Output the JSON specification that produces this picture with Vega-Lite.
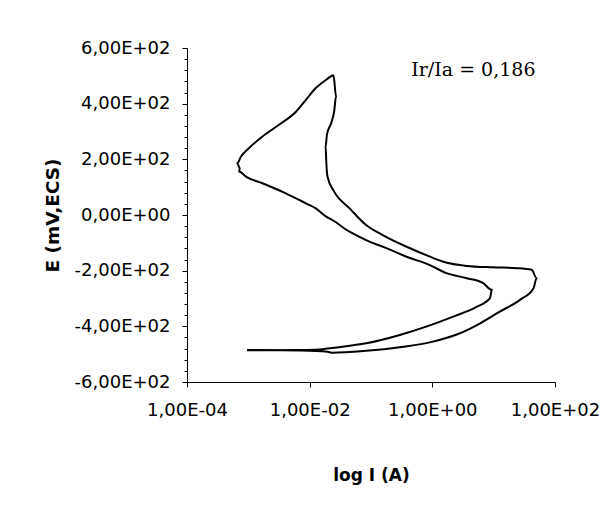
{
  "$schema": "https://vega.github.io/schema/vega-lite/v6.json",
  "width": 368,
  "height": 334,
  "autosize": {"type": "none"},
  "padding": {"left": 187, "top": 48, "right": 51, "bottom": 130},
  "background": "white",
  "config": {
    "view": {"stroke": null},
    "axis": {
      "grid": false,
      "domainColor": "black",
      "domainWidth": 1,
      "tickColor": "black",
      "tickWidth": 1,
      "labelColor": "black",
      "titleColor": "black",
      "labelFont": "DejaVu Sans",
      "labelFontSize": 18,
      "labelFlush": false,
      "labelOverlap": false,
      "titleFont": "DejaVu Sans",
      "titleFontWeight": "bold"
    }
  },
  "encoding": {
    "x": {
      "field": "I",
      "type": "quantitative",
      "scale": {"type": "log", "domain": [0.0001, 100], "nice": false},
      "axis": {
        "title": "log I (A)",
        "titleFontSize": 17,
        "titlePadding": 48,
        "values": [0.0001, 0.01, 1, 100],
        "tickSize": 5,
        "labelPadding": 14,
        "labelExpr": "datum.value < 0.001 ? '1,00E-04' : datum.value < 0.1 ? '1,00E-02' : datum.value < 10 ? '1,00E+00' : '1,00E+02'"
      }
    },
    "y": {
      "field": "E",
      "type": "quantitative",
      "scale": {"domain": [-600, 600], "nice": false, "zero": false},
      "axis": {
        "title": "E (mV,ECS)",
        "titleFontSize": 18.5,
        "titlePadding": 12,
        "values": [-600, -560, -520, -480, -440, -400, -360, -320, -280, -240, -200, -160, -120, -80, -40, 0, 40, 80, 120, 160, 200, 240, 280, 320, 360, 400, 440, 480, 520, 560, 600],
        "tickSize": {"expr": "datum.value % 200 == 0 ? 5 : 3"},
        "labelPadding": 12,
        "labelExpr": "datum.value % 200 != 0 ? '' : datum.value == 0 ? '0,00E+00' : (datum.value / 100) + ',00E+02'"
      }
    }
  },
  "layer": [
    {
      "data": {
        "values": [
          {"seq": 1, "I": 0.000955, "E": -485},
          {"seq": 2, "I": 0.00676, "E": -487},
          {"seq": 3, "I": 0.0195, "E": -491},
          {"seq": 4, "I": 0.0234, "E": -495},
          {"seq": 5, "I": 0.0832, "E": -488},
          {"seq": 6, "I": 0.295, "E": -475},
          {"seq": 7, "I": 1.023, "E": -455},
          {"seq": 8, "I": 2.82, "E": -425},
          {"seq": 9, "I": 6.03, "E": -389},
          {"seq": 10, "I": 12.6, "E": -347},
          {"seq": 11, "I": 26.9, "E": -305},
          {"seq": 12, "I": 44.7, "E": -263},
          {"seq": 13, "I": 50.1, "E": -227},
          {"seq": 14, "I": 41.7, "E": -197},
          {"seq": 15, "I": 24.0, "E": -191},
          {"seq": 16, "I": 9.77, "E": -188},
          {"seq": 17, "I": 3.63, "E": -183},
          {"seq": 18, "I": 1.51, "E": -168},
          {"seq": 19, "I": 0.794, "E": -144},
          {"seq": 20, "I": 0.38, "E": -114},
          {"seq": 21, "I": 0.155, "E": -72},
          {"seq": 22, "I": 0.0832, "E": -36},
          {"seq": 23, "I": 0.0447, "E": 24},
          {"seq": 24, "I": 0.0251, "E": 84},
          {"seq": 25, "I": 0.0195, "E": 138},
          {"seq": 26, "I": 0.0186, "E": 198},
          {"seq": 27, "I": 0.0182, "E": 246},
          {"seq": 28, "I": 0.0191, "E": 288},
          {"seq": 29, "I": 0.0224, "E": 330},
          {"seq": 30, "I": 0.0251, "E": 372},
          {"seq": 31, "I": 0.0269, "E": 426},
          {"seq": 32, "I": 0.0245, "E": 502},
          {"seq": 33, "I": 0.0186, "E": 486},
          {"seq": 34, "I": 0.0126, "E": 456},
          {"seq": 35, "I": 0.0087, "E": 414},
          {"seq": 36, "I": 0.00603, "E": 372},
          {"seq": 37, "I": 0.00316, "E": 324},
          {"seq": 38, "I": 0.0017, "E": 282},
          {"seq": 39, "I": 0.00102, "E": 240},
          {"seq": 40, "I": 0.000759, "E": 210},
          {"seq": 41, "I": 0.000661, "E": 186},
          {"seq": 42, "I": 0.000724, "E": 168},
          {"seq": 43, "I": 0.000708, "E": 156},
          {"seq": 44, "I": 0.000912, "E": 138},
          {"seq": 45, "I": 0.0017, "E": 114},
          {"seq": 46, "I": 0.00407, "E": 78},
          {"seq": 47, "I": 0.0087, "E": 42},
          {"seq": 48, "I": 0.0126, "E": 24},
          {"seq": 49, "I": 0.0186, "E": -6},
          {"seq": 50, "I": 0.0234, "E": -18},
          {"seq": 51, "I": 0.0447, "E": -60},
          {"seq": 52, "I": 0.0832, "E": -90},
          {"seq": 53, "I": 0.178, "E": -119},
          {"seq": 54, "I": 0.38, "E": -150},
          {"seq": 55, "I": 0.912, "E": -180},
          {"seq": 56, "I": 1.7, "E": -209},
          {"seq": 57, "I": 3.63, "E": -227},
          {"seq": 58, "I": 6.76, "E": -245},
          {"seq": 59, "I": 9.33, "E": -269},
          {"seq": 60, "I": 8.71, "E": -299},
          {"seq": 61, "I": 5.25, "E": -330},
          {"seq": 62, "I": 2.19, "E": -365},
          {"seq": 63, "I": 0.794, "E": -401},
          {"seq": 64, "I": 0.295, "E": -431},
          {"seq": 65, "I": 0.0832, "E": -461},
          {"seq": 66, "I": 0.0302, "E": -475},
          {"seq": 67, "I": 0.0145, "E": -483},
          {"seq": 68, "I": 0.00676, "E": -485},
          {"seq": 69, "I": 0.000955, "E": -486}
        ]
      },
      "mark": {"type": "line", "color": "black", "strokeWidth": 2, "strokeJoin": "round", "interpolate": "monotone"},
      "encoding": {"order": {"field": "seq", "type": "quantitative"}}
    },
    {
      "data": {"values": [{"I": 4.67, "E": 498, "label": "Ir/Ia = 0,186"}]},
      "mark": {"type": "text", "font": "DejaVu Serif", "fontSize": 19, "align": "center", "baseline": "alphabetic", "color": "black"},
      "encoding": {"text": {"field": "label", "type": "nominal"}}
    }
  ]
}
